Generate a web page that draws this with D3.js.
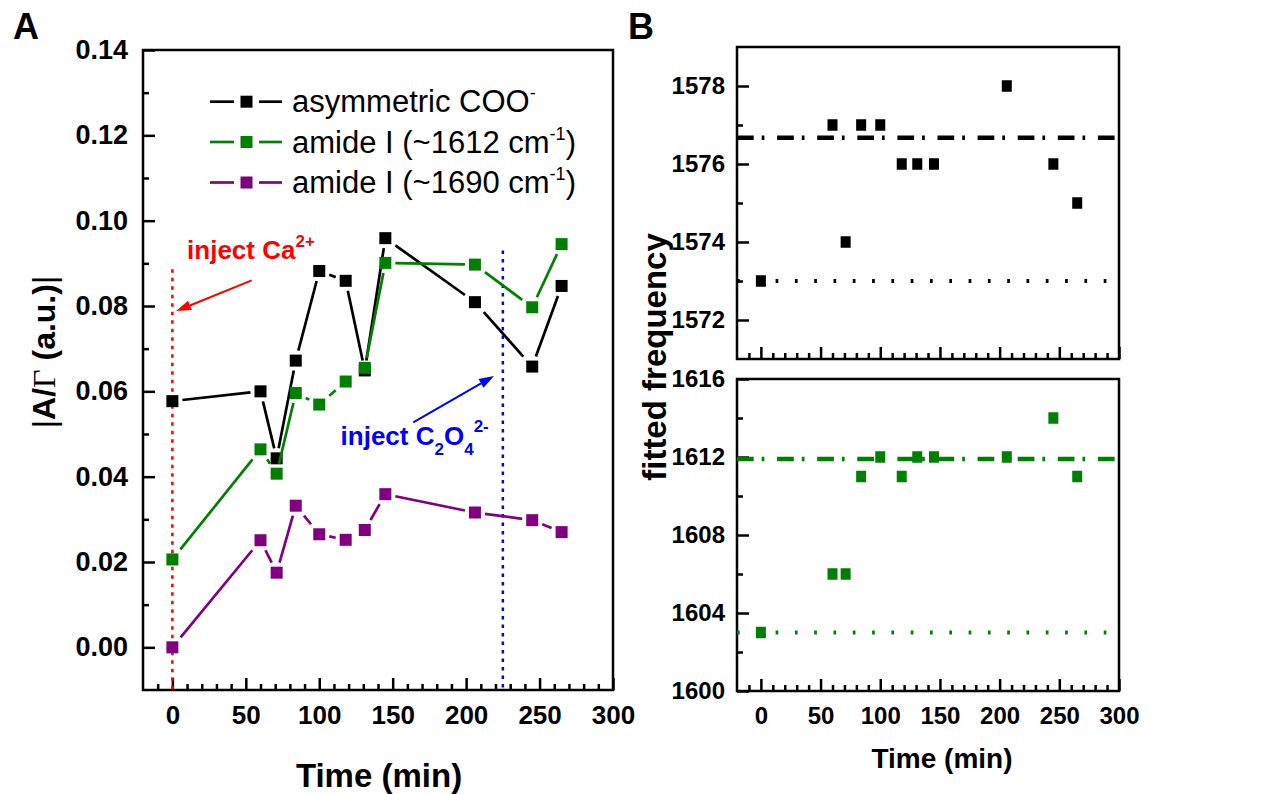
<!DOCTYPE html>
<html><head><meta charset="utf-8">
<script src="https://cdn.jsdelivr.net/npm/d3@7"></script>
<style>
body{margin:0;background:#fff;}
svg text{font-family:"Liberation Sans",Arial,sans-serif;}
</style></head><body>
<svg id="chart" width="1262" height="794"></svg>
<script>
// ---------------- data ----------------
const times      = [0, 60, 71, 84, 100, 118, 131, 145, 206, 245, 265];
const asymCOO    = [0.0577,0.0600,0.0443,0.0672,0.0882,0.0859,0.0649,0.0959,0.0809,0.0658,0.0847];
const amide1612  = [0.0206,0.0464,0.0407,0.0596,0.0569,0.0623,0.0655,0.0901,0.0897,0.0797,0.0945];
const amide1690  = [0.0000,0.0251,0.0175,0.0332,0.0265,0.0252,0.0275,0.0359,0.0316,0.0298,0.0270];
const freqCOO    = [1573,1577,1574,1577,1577,1576,1576,1576,1578,1576,1575];
const freqAmide  = [1603,1606,1606,1611,1612,1611,1612,1612,1612,1614,1611];
const refLinesCOO   = [1576.67, 1573];   // dash-dot, dotted
const refLinesAmide = [1611.9, 1603];
const injectTimes = [0, 225];
const xTicks   = [0,50,100,150,200,250,300];
const yTicksA  = [0,0.02,0.04,0.06,0.08,0.10,0.12,0.14];
const yTicksB1 = [1572,1574,1576,1578];
const yTicksB2 = [1600,1604,1608,1612,1616];
const seriesNames = ["asymmetric COO", "amide I (~1612 cm", "amide I (~1690 cm"];

const BLACK="#000000", GREEN="#008000", PURPLE="#800080", RED="#ff0000", BLUE="#0000ff";
const svg = d3.select("#chart");
const FONT = '"Liberation Sans",Arial,sans-serif';

// ---------------- scales ----------------
const xA = d3.scaleLinear().domain([-20,300]).range([143,613]);
const yA = d3.scaleLinear().domain([-0.01,0.14]).range([690,50]);
const xB = d3.scaleLinear().domain([-20,300]).range([737,1119]);
const yB1 = d3.scaleLinear().domain([1571,1579]).range([359,47]);
const yB2 = d3.scaleLinear().domain([1600,1616]).range([691,379]);

function range(a,b,s){const r=[];for(let v=a;v<=b+1e-9;v+=s)r.push(+v.toFixed(4));return r;}
const xMinor = range(-10,290,10).filter(v=>v%50!==0);

function styleAxis(g, size){
  g.select(".domain").remove();
  g.attr("font-family",FONT).attr("font-size",size).attr("font-weight","bold");
  g.selectAll(".tick line").attr("stroke","#000").attr("stroke-width",2.5);
  g.selectAll(".tick text").attr("fill","#000");
}

// ---------------- panel A ----------------
const gA = svg.append("g");
gA.append("g").attr("transform","translate(0,690)")
  .call(d3.axisBottom(xA).tickValues(xTicks).tickSizeInner(-12).tickSizeOuter(0).tickPadding(16).tickFormat(d3.format("d")))
  .call(g=>styleAxis(g,26));
gA.append("g").attr("transform","translate(0,690)")
  .call(d3.axisBottom(xA).tickValues(xMinor).tickSizeInner(-6).tickSizeOuter(0).tickFormat(""))
  .call(g=>styleAxis(g,26));
gA.append("g").attr("transform","translate(143,0)")
  .call(d3.axisLeft(yA).tickValues(yTicksA).tickSizeInner(-12).tickSizeOuter(0).tickPadding(15).tickFormat(d3.format(".2f")))
  .call(g=>styleAxis(g,27));
gA.append("g").attr("transform","translate(143,0)")
  .call(d3.axisLeft(yA).tickValues(range(0.01,0.13,0.02)).tickSizeInner(-6).tickSizeOuter(0).tickFormat(""))
  .call(g=>styleAxis(g,27));
gA.append("rect").attr("x",xA(-20)).attr("y",yA(0.14)).attr("width",xA(300)-xA(-20)).attr("height",yA(-0.01)-yA(0.14))
  .attr("fill","none").attr("stroke","#000").attr("stroke-width",2.5);

// injection lines
gA.append("line").attr("x1",xA(injectTimes[0])).attr("x2",xA(injectTimes[0])).attr("y1",yA(0.0886)).attr("y2",yA(-0.01))
  .attr("stroke",RED).attr("stroke-width",2.5).attr("stroke-dasharray","3.5,5");
gA.append("line").attr("x1",xA(injectTimes[1])).attr("x2",xA(injectTimes[1])).attr("y1",yA(0.0930)).attr("y2",yA(-0.01))
  .attr("stroke",BLUE).attr("stroke-width",2.5).attr("stroke-dasharray","3.5,5");

// arrows
function arrow(g, x1,y1,x2,y2,color){
  const ang=Math.atan2(y2-y1,x2-x1), L=15, W=5;
  const bx=x2-L*Math.cos(ang), by=y2-L*Math.sin(ang);
  g.append("line").attr("x1",x1).attr("y1",y1).attr("x2",bx).attr("y2",by).attr("stroke",color).attr("stroke-width",2);
  const px=-Math.sin(ang), py=Math.cos(ang);
  g.append("path").attr("d",`M${x2},${y2}L${bx+px*W},${by+py*W}L${bx-px*W},${by-py*W}Z`).attr("fill",color);
}
arrow(gA, xA(54), yA(0.0860), xA(2.5), yA(0.0788), RED);
arrow(gA, xA(164), yA(0.0527), xA(219), yA(0.0636), BLUE);

// annotation texts
const tRed = gA.append("text").attr("x",xA(10)).attr("y",259).attr("fill",RED)
  .attr("font-size",26).attr("font-weight","bold");
tRed.append("tspan").text("inject Ca");
tRed.append("tspan").attr("dy",-12).attr("font-size",17).text("2+");
const tBlue = gA.append("text").attr("x",xA(114.5)).attr("y",445).attr("fill",BLUE)
  .attr("font-size",26).attr("font-weight","bold");
tBlue.append("tspan").text("inject C");
tBlue.append("tspan").attr("dy",10).attr("font-size",17).text("2");
tBlue.append("tspan").attr("dy",-10).text("O");
tBlue.append("tspan").attr("dy",10).attr("font-size",17).text("4");
tBlue.append("tspan").attr("dy",-23).attr("font-size",17).text("2-");

// series
const seriesA = [
  {vals:asymCOO, color:BLACK},
  {vals:amide1612, color:GREEN},
  {vals:amide1690, color:PURPLE}
];
const SQ=12, GAP=4;
seriesA.forEach(s=>{
  const pts = times.map((t,i)=>[xA(t), yA(s.vals[i])]);
  for(let i=0;i<pts.length-1;i++){
    const [x1,y1]=pts[i],[x2,y2]=pts[i+1];
    const dx=x2-x1, dy=y2-y1, d=Math.hypot(dx,dy);
    const cut=(SQ/2+GAP);
    const tc=Math.min(cut/Math.max(Math.abs(dx),Math.abs(dy))*d, d/2);
    if(d-2*tc<=0.5) continue;
    const ux=dx/d, uy=dy/d;
    gA.append("line").attr("x1",x1+ux*tc).attr("y1",y1+uy*tc).attr("x2",x2-ux*tc).attr("y2",y2-uy*tc)
      .attr("stroke",s.color).attr("stroke-width",2.7);
  }
  gA.selectAll(null).data(pts).enter().append("rect")
    .attr("x",d=>d[0]-SQ/2).attr("y",d=>d[1]-SQ/2).attr("width",SQ).attr("height",SQ).attr("fill",s.color);
});

// legend
const legRows=[101.7,142,182.5];
const legColors=[BLACK,GREEN,PURPLE];
const legSup=["-","-1","-1"];
legRows.forEach((ry,i)=>{
  gA.append("line").attr("x1",210).attr("x2",234).attr("y1",ry).attr("y2",ry).attr("stroke",legColors[i]).attr("stroke-width",2.7);
  gA.append("line").attr("x1",259).attr("x2",282).attr("y1",ry).attr("y2",ry).attr("stroke",legColors[i]).attr("stroke-width",2.7);
  gA.append("rect").attr("x",246.5-SQ/2).attr("y",ry-SQ/2).attr("width",SQ).attr("height",SQ).attr("fill",legColors[i]);
  const t=gA.append("text").attr("x",292).attr("y",ry+10.5).attr("font-size",31).attr("fill","#000");
  t.append("tspan").text(seriesNames[i]);
  t.append("tspan").attr("dy",-13).attr("font-size",18).text(legSup[i]);
  if(i>0) t.append("tspan").attr("dy",13).text(")");
});

// axis titles A
gA.append("text").attr("x",379).attr("y",787).attr("text-anchor","middle").attr("font-size",33).attr("font-weight","bold").text("Time (min)");
const yl=gA.append("text").attr("transform","translate(55,352) rotate(-90)").attr("text-anchor","middle").attr("font-size",32).attr("font-weight","bold");
yl.append("tspan").attr("font-weight","normal").text("|");
yl.append("tspan").text("A/");
yl.append("tspan").attr("font-family",'"Liberation Serif","DejaVu Serif",serif').attr("font-weight","normal").text("Γ");
yl.append("tspan").text(" (a.u.)");
yl.append("tspan").attr("font-weight","normal").text("|");
svg.append("text").attr("x",13).attr("y",39).attr("font-size",36).attr("font-weight","bold").text("A");

// ---------------- panel B ----------------
const gB = svg.append("g");
function panelB(yS, yMajor, yMinorVals, vals, refs, color, showX){
  const [y0,y1]=yS.domain();
  const yBot=yS(y0), yTop=yS(y1);
  gB.append("g").attr("transform",`translate(0,${yBot})`)
    .call(d3.axisBottom(xB).tickValues(xTicks).tickSizeInner(-12).tickSizeOuter(0).tickPadding(16).tickFormat(showX?d3.format("d"):""))
    .call(g=>styleAxis(g,24));
  gB.append("g").attr("transform",`translate(0,${yBot})`)
    .call(d3.axisBottom(xB).tickValues(xMinor).tickSizeInner(-6).tickSizeOuter(0).tickFormat(""))
    .call(g=>styleAxis(g,24));
  gB.append("g").attr("transform","translate(737,0)")
    .call(d3.axisLeft(yS).tickValues(yMajor).tickSizeInner(-12).tickSizeOuter(0).tickPadding(12).tickFormat(d3.format("d")))
    .call(g=>styleAxis(g,24));
  gB.append("g").attr("transform","translate(737,0)")
    .call(d3.axisLeft(yS).tickValues(yMinorVals).tickSizeInner(-6).tickSizeOuter(0).tickFormat(""))
    .call(g=>styleAxis(g,24));
  gB.append("rect").attr("x",xB(-20)).attr("y",yTop).attr("width",xB(300)-xB(-20)).attr("height",yBot-yTop)
    .attr("fill","none").attr("stroke","#000").attr("stroke-width",2.5);
  gB.append("line").attr("x1",xB(-20)).attr("x2",xB(300)).attr("y1",yS(refs[0])).attr("y2",yS(refs[0]))
    .attr("stroke",color).attr("stroke-width",4.5).attr("stroke-dasharray","16.7,8,2.7,12.7");
  gB.append("line").attr("x1",xB(-20)).attr("x2",xB(300)).attr("y1",yS(refs[1])).attr("y2",yS(refs[1]))
    .attr("stroke",color).attr("stroke-width",4).attr("stroke-dasharray","2.7,16.6");
  gB.selectAll(null).data(times).enter().append("rect")
    .attr("x",(t)=>xB(t)-5).attr("y",(t,i)=>yS(vals[i])-5.75).attr("width",10).attr("height",11.5).attr("fill",color);
}
panelB(yB1, yTicksB1, [1573,1575,1577], freqCOO, refLinesCOO, BLACK, false);
panelB(yB2, yTicksB2, [1602,1606,1610,1614], freqAmide, refLinesAmide, GREEN, true);

gB.append("text").attr("x",942).attr("y",768).attr("text-anchor","middle").attr("font-size",28).attr("font-weight","bold").text("Time (min)");
gB.append("text").attr("transform","translate(666,357) rotate(-90)").attr("text-anchor","middle").attr("font-size",33).attr("font-weight","bold").text("fitted frequency");
svg.append("text").attr("x",628).attr("y",39).attr("font-size",36).attr("font-weight","bold").text("B");
</script>
</body></html>
